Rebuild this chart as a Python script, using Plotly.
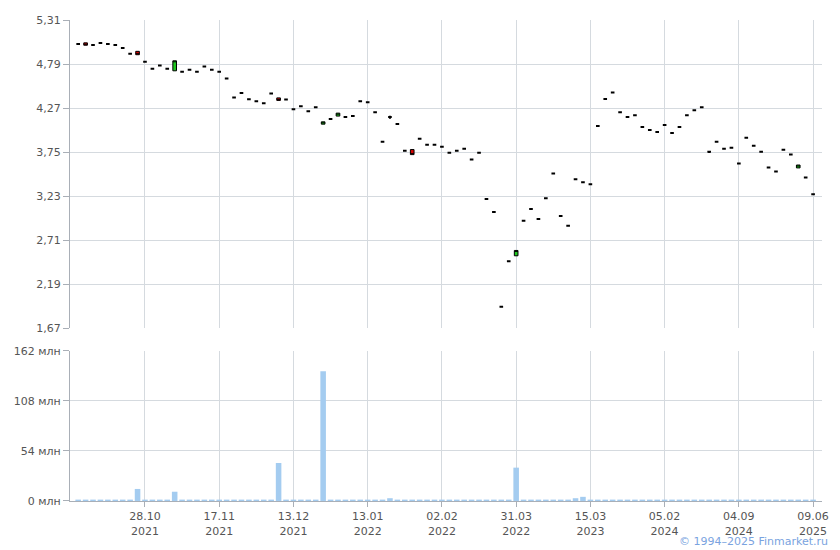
import plotly.graph_objects as go

# ---- data ----
idx = list(range(100))

opens = [5.027, 5.040, 5.015, 5.038, 5.027, 5.015, 4.980, 4.910, 4.940, 4.816,
         4.735, 4.773, 4.735, 4.710, 4.700, 4.723, 4.700, 4.760, 4.723, 4.700,
         4.618, 4.396, 4.447, 4.373, 4.350, 4.326, 4.443, 4.390, 4.370, 4.256,
         4.291, 4.233, 4.280, 4.080, 4.140, 4.175, 4.163, 4.175, 4.350, 4.338,
         4.221, 3.871, 4.163, 4.082, 3.766, 3.780, 3.906, 3.836, 3.836, 3.813,
         3.743, 3.766, 3.790, 3.661, 3.743, 3.195, 3.043, 1.923, 2.460, 2.525,
         2.938, 3.078, 2.961, 3.206, 3.498, 2.996, 2.880, 3.428, 3.393, 3.370,
         4.058, 4.377, 4.455, 4.221, 4.163, 4.186, 4.046, 4.011, 3.988, 4.070,
         3.976, 4.046, 4.186, 4.245, 4.280, 3.755, 3.871, 3.790, 3.801, 3.615,
         3.918, 3.825, 3.755, 3.568, 3.521, 3.778, 3.720, 3.563, 3.451, 3.253]

closes = [5.027, 5.012, 5.015, 5.038, 5.027, 5.015, 4.980, 4.910, 4.900, 4.816,
          4.735, 4.773, 4.735, 4.828, 4.700, 4.723, 4.700, 4.760, 4.723, 4.700,
          4.618, 4.396, 4.447, 4.373, 4.350, 4.326, 4.443, 4.360, 4.370, 4.256,
          4.291, 4.233, 4.280, 4.107, 4.140, 4.210, 4.163, 4.175, 4.350, 4.338,
          4.221, 3.871, 4.163, 4.082, 3.766, 3.720, 3.906, 3.836, 3.836, 3.813,
          3.743, 3.766, 3.790, 3.661, 3.743, 3.195, 3.043, 1.923, 2.460, 2.588,
          2.938, 3.078, 2.961, 3.206, 3.498, 2.996, 2.880, 3.428, 3.393, 3.370,
          4.058, 4.377, 4.455, 4.221, 4.163, 4.186, 4.046, 4.011, 3.988, 4.070,
          3.976, 4.046, 4.186, 4.245, 4.280, 3.755, 3.871, 3.790, 3.801, 3.615,
          3.918, 3.825, 3.755, 3.568, 3.521, 3.778, 3.720, 3.597, 3.451, 3.253]

highs = [5.027, 5.040, 5.015, 5.038, 5.027, 5.015, 4.980, 4.910, 4.940, 4.816,
         4.735, 4.773, 4.735, 4.828, 4.700, 4.723, 4.700, 4.760, 4.723, 4.700,
         4.618, 4.396, 4.447, 4.373, 4.350, 4.326, 4.443, 4.390, 4.370, 4.256,
         4.291, 4.233, 4.280, 4.107, 4.140, 4.210, 4.163, 4.175, 4.350, 4.338,
         4.221, 3.871, 4.180, 4.082, 3.766, 3.780, 3.906, 3.836, 3.836, 3.813,
         3.743, 3.766, 3.790, 3.661, 3.743, 3.195, 3.043, 1.923, 2.460, 2.588,
         2.938, 3.078, 2.961, 3.206, 3.498, 2.996, 2.880, 3.428, 3.393, 3.370,
         4.058, 4.377, 4.455, 4.221, 4.163, 4.186, 4.046, 4.011, 3.988, 4.070,
         3.976, 4.046, 4.186, 4.245, 4.280, 3.755, 3.871, 3.790, 3.801, 3.615,
         3.918, 3.825, 3.755, 3.568, 3.521, 3.778, 3.720, 3.597, 3.451, 3.253]

lows = [5.027, 5.012, 5.015, 5.038, 5.027, 5.015, 4.980, 4.910, 4.900, 4.816,
        4.735, 4.773, 4.735, 4.710, 4.700, 4.723, 4.700, 4.760, 4.723, 4.700,
        4.618, 4.396, 4.447, 4.373, 4.350, 4.326, 4.443, 4.360, 4.370, 4.256,
        4.291, 4.233, 4.280, 4.080, 4.140, 4.175, 4.163, 4.175, 4.350, 4.338,
        4.221, 3.871, 4.145, 4.082, 3.766, 3.720, 3.906, 3.836, 3.836, 3.813,
        3.743, 3.766, 3.790, 3.661, 3.743, 3.195, 3.043, 1.923, 2.460, 2.525,
        2.938, 3.078, 2.961, 3.206, 3.498, 2.996, 2.880, 3.428, 3.393, 3.370,
        4.058, 4.377, 4.455, 4.221, 4.163, 4.186, 4.046, 4.011, 3.988, 4.070,
        3.976, 4.046, 4.186, 4.245, 4.280, 3.740, 3.871, 3.790, 3.801, 3.615,
        3.918, 3.825, 3.755, 3.568, 3.521, 3.778, 3.720, 3.563, 3.451, 3.253]

volumes = [1.5, 1.5, 1.5, 1.5, 1.5, 1.5, 1.5, 1.5, 13.0, 1.5,
           1.5, 1.5, 1.5, 10.0, 1.5, 1.5, 1.5, 1.5, 1.5, 1.5,
           1.5, 1.5, 1.5, 1.5, 1.5, 1.5, 1.5, 41.0, 1.5, 1.5,
           1.5, 1.5, 1.5, 140.0, 1.5, 1.5, 1.5, 1.5, 1.5, 1.5,
           1.5, 1.5, 3.0, 1.5, 1.5, 1.5, 1.5, 1.5, 1.5, 1.5,
           1.5, 1.5, 1.5, 1.5, 1.5, 1.5, 1.5, 1.5, 1.5, 36.0,
           1.5, 1.5, 1.5, 1.5, 1.5, 1.5, 1.5, 3.0, 4.5, 1.5,
           1.5, 1.5, 1.5, 1.5, 1.5, 1.5, 1.5, 1.5, 1.5, 1.5,
           1.5, 1.5, 1.5, 1.5, 1.5, 1.5, 1.5, 1.5, 1.5, 1.5,
           1.5, 1.5, 1.5, 1.5, 1.5, 1.5, 1.5, 1.5, 1.5, 1.5]

x_tick_idx = [9, 19, 29, 39, 49, 59, 69, 79, 89, 99]
x_tick_text = ["28.10<br>2021", "17.11<br>2021", "13.12<br>2021", "13.01<br>2022",
               "02.02<br>2022", "31.03<br>2022", "15.03<br>2023", "05.02<br>2024",
               "04.09<br>2024", "09.06<br>2025"]

price_ticks = [1.67, 2.19, 2.71, 3.23, 3.75, 4.27, 4.79, 5.31]
price_tick_text = ["1,67", "2,19", "2,71", "3,23", "3,75", "4,27", "4,79", "5,31"]

vol_ticks = [0, 54, 108, 162]
vol_tick_text = ["0 млн", "54 млн", "108 млн", "162 млн"]

# ---- styling ----
GRID = "#d5dadf"
AXIS = "#a9afb7"
TXT = "#555555"
FONT = "DejaVu Sans"

fig = go.Figure()

# split sessions: flat ones (open == close) drawn as bold dashes, others as bodies
flat = [i for i in idx if opens[i] == closes[i]]
body = [i for i in idx if opens[i] != closes[i]]


def pick(arr, sel):
    return [arr[i] for i in sel]


fig.add_trace(go.Candlestick(
    x=flat, open=pick(opens, flat), high=pick(highs, flat),
    low=pick(lows, flat), close=pick(closes, flat),
    xaxis="x", yaxis="y",
    increasing=dict(line=dict(color="black", width=2), fillcolor="black"),
    decreasing=dict(line=dict(color="black", width=2), fillcolor="black"),
    whiskerwidth=0, showlegend=False, hoverinfo="skip",
))

fig.add_trace(go.Candlestick(
    x=body, open=pick(opens, body), high=pick(highs, body),
    low=pick(lows, body), close=pick(closes, body),
    xaxis="x", yaxis="y",
    increasing=dict(line=dict(color="black", width=1), fillcolor="#1ec81e"),
    decreasing=dict(line=dict(color="black", width=1), fillcolor="#d40000"),
    whiskerwidth=0, showlegend=False, hoverinfo="skip",
))

fig.add_trace(go.Bar(
    x=idx, y=volumes, xaxis="x2", yaxis="y2",
    marker=dict(color="#a4ccf0", line=dict(width=0)),
    width=0.75, showlegend=False, hoverinfo="skip",
))

common_x = dict(
    range=[-1.1, 100.2], tickmode="array", tickvals=x_tick_idx,
    showgrid=True, gridcolor=GRID, gridwidth=1, zeroline=False,
)

# The page body adds an 8px margin, so the figure is sized/offset to compensate.
fig.update_layout(
    width=832, height=542,
    margin=dict(l=62, r=18, t=6, b=49),
    paper_bgcolor="white", plot_bgcolor="white",
    font=dict(family=FONT, size=11, color=TXT),
    boxgap=0.3,
    xaxis=dict(**common_x, anchor="y", showticklabels=False, ticks="",
               showline=False, rangeslider=dict(visible=False)),
    xaxis2=dict(**common_x, anchor="y2", matches="x", ticktext=x_tick_text,
                ticks="outside", ticklen=5, tickcolor=AXIS,
                showline=True, linecolor=AXIS, linewidth=1,
                tickfont=dict(family=FONT, size=11, color=TXT)),
    yaxis=dict(domain=[0.3593, 1.0], range=[1.67, 5.31],
               tickmode="array", tickvals=price_ticks, ticktext=price_tick_text,
               showgrid=True, gridcolor=GRID, zeroline=False,
               showline=True, linecolor=AXIS, ticks="outside", ticklen=6,
               tickcolor=AXIS, tickfont=dict(family=FONT, size=11, color=TXT)),
    yaxis2=dict(domain=[0.0, 0.3121], range=[0, 162],
                tickmode="array", tickvals=vol_ticks, ticktext=vol_tick_text,
                showgrid=True, gridcolor=GRID, zeroline=False,
                showline=True, linecolor=AXIS, ticks="outside", ticklen=6,
                tickcolor=AXIS, tickfont=dict(family=FONT, size=11, color=TXT)),
    annotations=[dict(
        text="© 1994–2025 Finmarket.ru", xref="paper", yref="paper",
        x=1.0106, y=-0.084, xanchor="right", yanchor="middle", showarrow=False,
        font=dict(family=FONT, size=11, color="#7aa3e0"),
    )],
)

fig.write_html("out.html")
